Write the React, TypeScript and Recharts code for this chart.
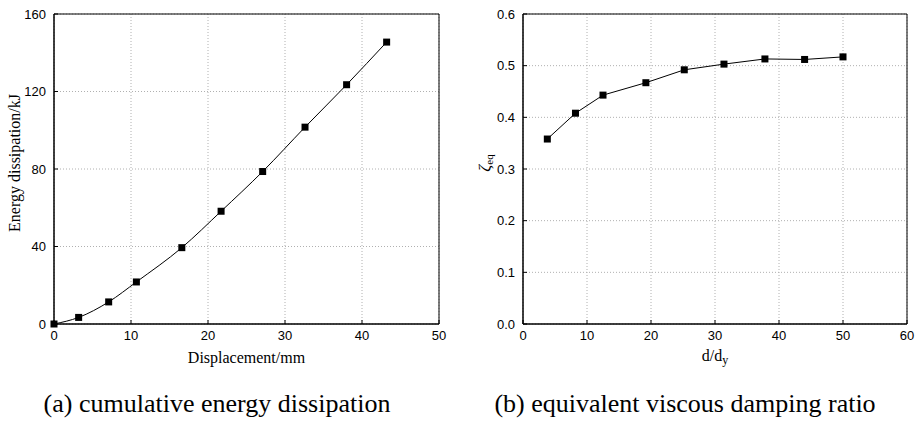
import React from 'react';
import { LineChart, Line, XAxis, YAxis, CartesianGrid, ReferenceArea, Label } from 'recharts';

const dispX = [0, 3.2, 7.1, 10.7, 16.6, 21.7, 27.1, 32.6, 38.0, 43.2];
const energyY = [0, 3.4, 11.4, 21.7, 39.4, 58.2, 78.7, 101.6, 123.5, 145.5];
const ratioX = [3.8, 8.2, 12.5, 19.2, 25.2, 31.4, 37.8, 44.0, 50.0];
const dampY = [0.358, 0.408, 0.443, 0.467, 0.492, 0.503, 0.513, 0.512, 0.517];
const leftXTicks = [0, 10, 20, 30, 40, 50];
const leftYTicks = [0, 40, 80, 120, 160];
const rightXTicks = [0, 10, 20, 30, 40, 50, 60];
const rightYTicks = [0, 0.1, 0.2, 0.3, 0.4, 0.5, 0.6];

const energyData = dispX.map((x, i) => ({ x, y: energyY[i] }));
const dampData = ratioX.map((x, i) => ({ x, y: dampY[i] }));

const SANS = '"Liberation Sans", Arial, sans-serif';
const SERIF = '"Liberation Serif", "Times New Roman", serif';
const tickStyle = { fontFamily: SANS, fontSize: 13, fill: '#000' };

const SquareDot = (props: any) => {
  const { cx, cy, key } = props;
  if (cx == null || cy == null) return <g key={key} />;
  return <rect key={key} x={cx - 3.5} y={cy - 3.5} width={7} height={7} fill="#000" />;
};

export default function App() {
  return (
    <div style={{ position: 'absolute', left: 0, top: 0, width: 916, height: 423, background: '#fff' }}>
      <div style={{ position: 'absolute', left: 0, top: 0 }}>
        <LineChart width={460} height={372} data={energyData} margin={{ top: 14, right: 21, left: 0, bottom: 0 }}>
          <CartesianGrid stroke="#b0b0b0" strokeDasharray="1 2" />
          <XAxis
            type="number"
            dataKey="x"
            domain={[0, 50]}
            ticks={leftXTicks}
            height={48}
            tickSize={-4}
            tickMargin={11}
            tick={tickStyle}
            stroke="#000"
            tickLine={{ stroke: '#000' }}
            axisLine={{ stroke: '#000' }}
          >
            <Label
              content={(p: any) => {
                const vb = p.viewBox;
                return (
                  <text x={vb.x + vb.width / 2} y={vb.y + 35} textAnchor="middle" dominantBaseline="middle" fontFamily={SERIF} fontSize={16} fill="#000">
                    Displacement/mm
                  </text>
                );
              }}
            />
          </XAxis>
          <YAxis
            type="number"
            dataKey="y"
            domain={[0, 160]}
            ticks={leftYTicks}
            width={54}
            tickSize={-4}
            tickMargin={12}
            tick={tickStyle}
            stroke="#000"
            tickLine={{ stroke: '#000' }}
            axisLine={{ stroke: '#000' }}
          >
            <Label
              content={(p: any) => {
                const cx = 16;
                const cy = 163;
                return (
                  <text x={cx} y={cy} transform={`rotate(-90 ${cx} ${cy})`} textAnchor="middle" dominantBaseline="middle" fontFamily={SERIF} fontSize={16} fill="#000">
                    Energy dissipation/kJ
                  </text>
                );
              }}
            />
          </YAxis>
          <ReferenceArea x1={0} x2={50} y1={0} y2={160} fill="none" stroke="#000" strokeWidth={1} fillOpacity={0} />
          <Line
            type="monotone"
            dataKey="y"
            stroke="#000"
            strokeWidth={1}
            dot={SquareDot}
            activeDot={false}
            isAnimationActive={false}
          />
        </LineChart>
      </div>
      <div style={{ position: 'absolute', left: 460, top: 0 }}>
        <LineChart width={456} height={372} data={dampData} margin={{ top: 14, right: 9, left: 0, bottom: 0 }}>
          <CartesianGrid stroke="#b0b0b0" strokeDasharray="1 2" />
          <XAxis
            type="number"
            dataKey="x"
            domain={[0, 60]}
            ticks={rightXTicks}
            height={48}
            tickSize={-4}
            tickMargin={11}
            tick={tickStyle}
            stroke="#000"
            tickLine={{ stroke: '#000' }}
            axisLine={{ stroke: '#000' }}
          >
            <Label
              content={(p: any) => {
                const vb = p.viewBox;
                return (
                  <text x={vb.x + vb.width / 2} y={vb.y + 33} textAnchor="middle" dominantBaseline="middle" fontFamily={SERIF} fontSize={16} fill="#000">
                    d/d<tspan fontSize={12} dy={4}>y</tspan>
                  </text>
                );
              }}
            />
          </XAxis>
          <YAxis
            type="number"
            dataKey="y"
            domain={[0, 0.6]}
            ticks={rightYTicks}
            tickFormatter={(v: number) => v.toFixed(1)}
            width={63}
            tickSize={-4}
            tickMargin={12}
            tick={tickStyle}
            stroke="#000"
            tickLine={{ stroke: '#000' }}
            axisLine={{ stroke: '#000' }}
          >
            <Label
              content={(p: any) => {
                const cx = 26;
                const cy = 163;
                return (
                  <text x={cx} y={cy} transform={`rotate(-90 ${cx} ${cy})`} textAnchor="middle" dominantBaseline="middle" fontFamily={SERIF} fontSize={17} fill="#000">
                    <tspan fontStyle="italic">ζ</tspan>
                    <tspan fontSize={11} dy={4}>eq</tspan>
                  </text>
                );
              }}
            />
          </YAxis>
          <ReferenceArea x1={0} x2={60} y1={0} y2={0.6} fill="none" stroke="#000" strokeWidth={1} fillOpacity={0} />
          <Line
            type="linear"
            dataKey="y"
            stroke="#000"
            strokeWidth={1}
            dot={SquareDot}
            activeDot={false}
            isAnimationActive={false}
          />
        </LineChart>
      </div>
      <div style={{ position: 'absolute', left: 17, width: 400, top: 389, textAlign: 'center', fontFamily: SERIF, fontSize: 26, lineHeight: '30px', color: '#000', whiteSpace: 'nowrap' }}>
        (a) cumulative energy dissipation
      </div>
      <div style={{ position: 'absolute', left: 485, width: 400, top: 389, textAlign: 'center', fontFamily: SERIF, fontSize: 26, lineHeight: '30px', color: '#000', whiteSpace: 'nowrap' }}>
        (b) equivalent viscous damping ratio
      </div>
    </div>
  );
}
